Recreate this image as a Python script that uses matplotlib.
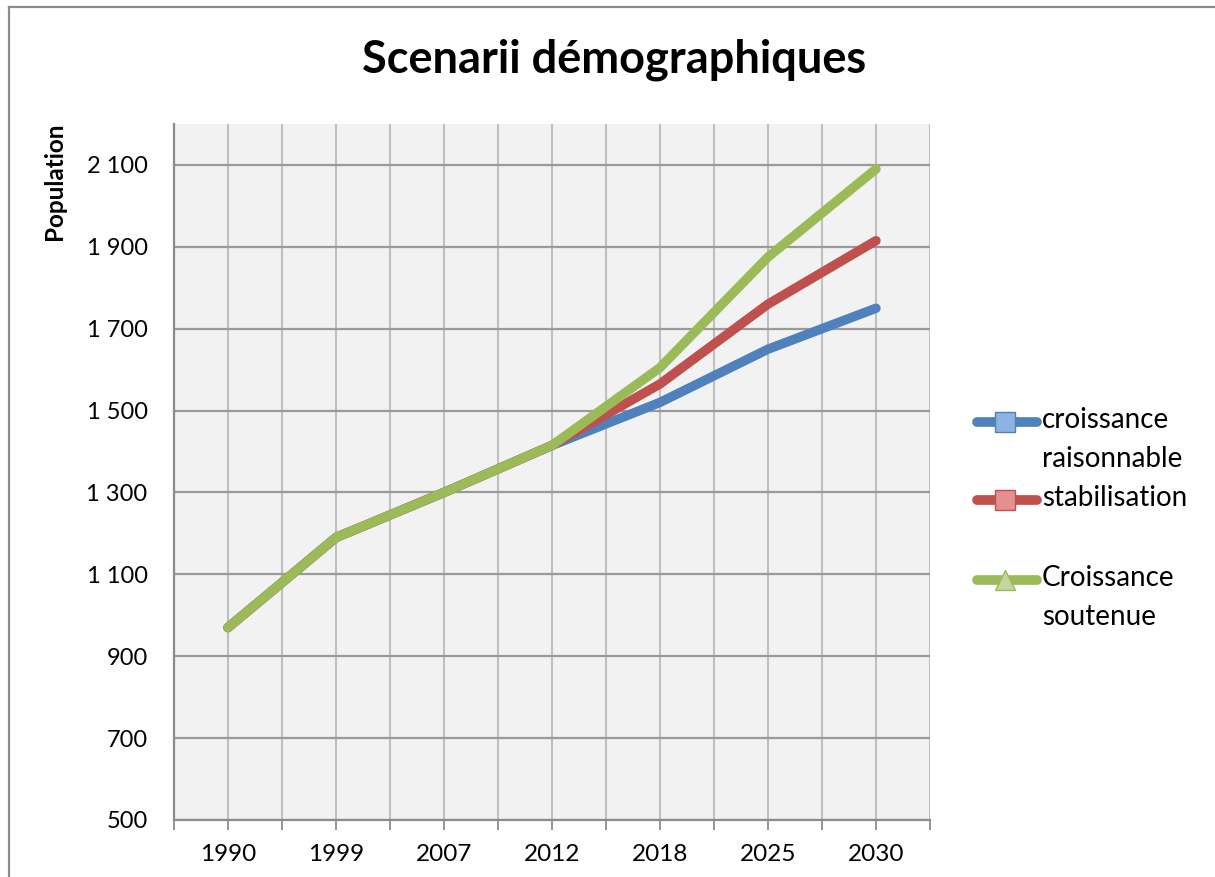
import matplotlib
matplotlib.use("Agg")
import matplotlib.pyplot as plt
from matplotlib.lines import Line2D
from matplotlib.ticker import FuncFormatter
import numpy as np

plt.rcParams['font.family'] = ['Lato', 'DejaVu Sans']

years = ['1990', '1999', '2007', '2012', '2018', '2025', '2030']
raisonnable = [970, 1190, 1300, 1415, 1520, 1650, 1750]
stabilisation = [970, 1190, 1300, 1415, 1565, 1760, 1915]
soutenue = [970, 1190, 1300, 1415, 1605, 1875, 2090]

series = [
    ("croissance\nraisonnable", raisonnable, '#4f81bd', '#8db3e2', 's'),
    ("stabilisation", stabilisation, '#c0504d', '#e6908e', 's'),
    ("Croissance\nsoutenue", soutenue, '#9bbb59', '#c3d69b', '^'),
]

W, H = 1215, 877
fig = plt.figure(figsize=(W / 100, H / 100), dpi=100)
ax = fig.add_axes([174 / W, 1 - 820 / H, (930 - 174) / W, (820 - 124) / H])
ax.set_facecolor('#f2f2f2')

x = np.arange(len(years))
for label, vals, color, light, marker in series:
    ax.plot(x, vals, color=color, lw=6.8, solid_capstyle='round',
            solid_joinstyle='round', zorder=3)

ax.set_xlim(-0.5, len(years) - 0.5)
ax.set_ylim(500, 2200)
ax.set_xticks(x, labels=years)
ax.set_xticks(np.arange(-0.5, len(years), 1.0), minor=True)
ax.set_yticks(np.arange(500, 2101, 200))
ax.yaxis.set_major_formatter(FuncFormatter(lambda v, p: f"{int(v):,}".replace(',', ' ')))

ax.grid(axis='x', which='both', color='#c0c0c0', lw=1.5, zorder=1)
ax.grid(axis='y', which='major', color='#9a9a9a', lw=1.6, zorder=1)

for side in ('top', 'right'):
    ax.spines[side].set_visible(False)
for side in ('left', 'bottom'):
    ax.spines[side].set_color('#8c8c8c')
    ax.spines[side].set_linewidth(1.6)

ax.tick_params(axis='x', which='both', length=7, width=1.3, color='#8c8c8c',
               direction='out', pad=10, labelsize=17.5)
ax.tick_params(axis='y', length=0, pad=19, labelsize=17)

fig.text(614 / W, 1 - 60 / H, "Scenarii démographiques", ha='center', va='center',
         fontsize=32.5, fontweight='bold')
fig.text(55 / W, 1 - 181 / H, "Population", rotation=90, ha='center', va='center',
         fontsize=17.5, fontweight='bold')

# legend on the right, built by hand so each key sits on its first text line
key_y = [422, 500, 580]
for (label, vals, color, light, marker), ky in zip(series, key_y):
    yy = 1 - ky / H
    fig.add_artist(Line2D([977 / W, 1037 / W], [yy, yy], color=color, lw=7,
                          solid_capstyle='round', transform=fig.transFigure))
    fig.add_artist(Line2D([1005 / W], [yy], marker=marker, ms=14, mfc=light,
                          mec=color, mew=1, transform=fig.transFigure))
    fig.text(1042 / W, yy + 15 / H, label, ha='left', va='top', fontsize=20,
             linespacing=1.62)

# outer chart frame
frame = dict(color='#8c8c8c', lw=1.6, transform=fig.transFigure)
fig.add_artist(Line2D([9 / W, 9 / W], [0, 1 - 7 / H], **frame))
fig.add_artist(Line2D([9 / W, 1], [1 - 7 / H, 1 - 7 / H], **frame))

fig.savefig("out.png", dpi=100, facecolor='white')
